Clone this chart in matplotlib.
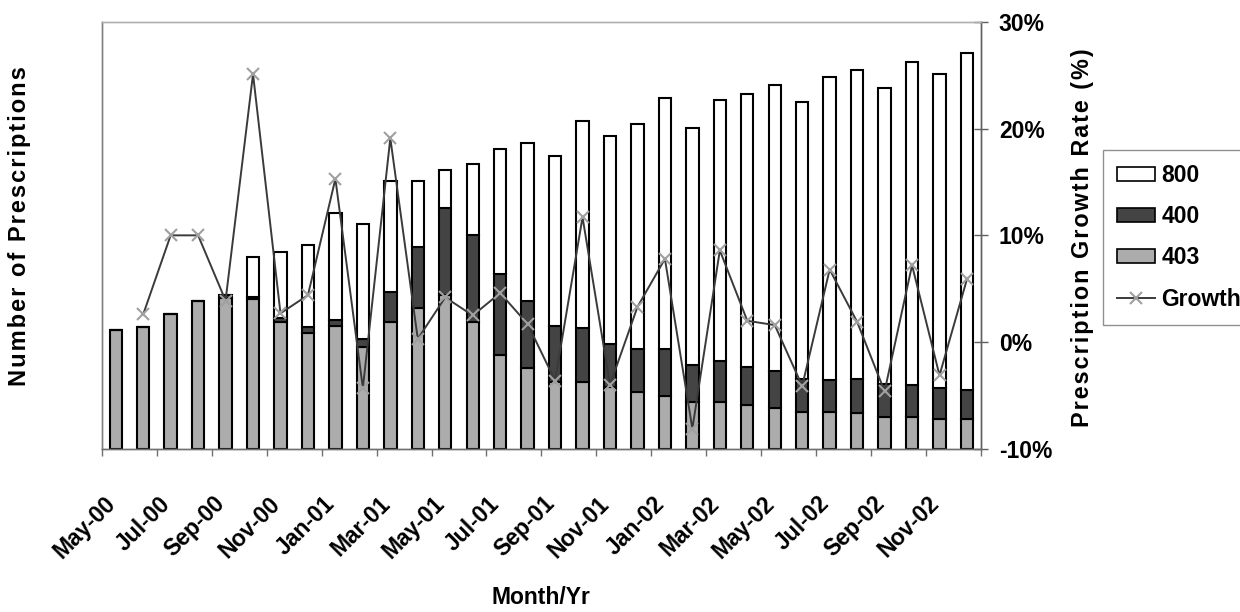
import matplotlib
matplotlib.use("Agg")
import matplotlib.pyplot as plt
import numpy as np
from matplotlib.patches import Patch
from matplotlib.lines import Line2D
from matplotlib.transforms import ScaledTranslation

plt.rcParams['font.family'] = ['Liberation Sans', 'DejaVu Sans']
plt.rcParams['font.weight'] = 'bold'

months = ['May-00', 'Jun-00', 'Jul-00', 'Aug-00', 'Sep-00', 'Oct-00', 'Nov-00', 'Dec-00',
          'Jan-01', 'Feb-01', 'Mar-01', 'Apr-01', 'May-01', 'Jun-01', 'Jul-01', 'Aug-01',
          'Sep-01', 'Oct-01', 'Nov-01', 'Dec-01', 'Jan-02', 'Feb-02', 'Mar-02', 'Apr-02',
          'May-02', 'Jun-02', 'Jul-02', 'Aug-02', 'Sep-02', 'Oct-02', 'Nov-02', 'Dec-02']

rx403 = [119, 122, 135, 148, 151, 150, 127, 116, 123, 102, 127, 141, 154, 127, 94, 81,
         67, 67, 62, 57, 53, 47, 47, 44, 41, 37, 37, 36, 32, 32, 30, 30]
rx400 = [0, 0, 0, 0, 3, 2, 4, 6, 6, 8, 30, 61, 87, 87, 81, 67,
         56, 54, 43, 43, 47, 37, 41, 38, 37, 33, 32, 34, 33, 32, 31, 29]
rx800 = [0, 0, 0, 0, 0, 40, 66, 82, 107, 115, 111, 66, 38, 71, 125, 158,
         170, 207, 208, 225, 251, 237, 261, 273, 286, 277, 303, 309, 296, 323, 314, 337]
growth = [np.nan, 2.6, 10.0, 10.0, 3.9, 25.1, 2.7, 4.4, 15.3, -4.3, 19.1, 0.3, 4.2, 2.5, 4.6, 1.7,
          -3.6, 11.7, -4.0, 3.3, 7.8, -8.1, 8.6, 2.0, 1.6, -4.1, 6.8, 1.9, -4.6, 7.2, -3.1, 5.9]

pct_ticks = [-10, 0, 10, 20, 30]
pct_labels = ['-10%', '0%', '10%', '20%', '30%']

FS = 16.5
W, H = 1240, 612
fig = plt.figure(figsize=(W / 100, H / 100), dpi=100)
L, R, T, B = 102, 980.7, 21.7, 449
ax = fig.add_axes([L / W, 1 - B / H, (R - L) / W, (B - T) / H])

x = np.arange(len(months))
a403 = np.array(rx403, float)
a400 = np.array(rx400, float)
a800 = np.array(rx800, float)
bw = 0.45
c403 = '#acacac'
c400 = '#444444'
c800 = '#ffffff'
ax.bar(x, a403, bw, color=c403, edgecolor='black', linewidth=1.5, zorder=2)
ax.bar(x, a400, bw, bottom=a403, color=c400, edgecolor='black', linewidth=1.5, zorder=2)
ax.bar(x, a800, bw, bottom=a403 + a400, color=c800, edgecolor='black', linewidth=1.5, zorder=2)

ax.set_xlim(-0.5, len(months) - 0.5)
ax.set_ylim(0, 427)
ax.set_yticks([])
ax.set_xticks(x[::2])
ax.set_xticklabels(months[::2], rotation=45, ha='right', va='top', rotation_mode='anchor',
                   fontsize=FS, fontweight='bold')
ax.tick_params(axis='x', which='major', length=0, pad=31)
ax.set_xticks(np.arange(-0.5, len(months), 2), minor=True)
ax.tick_params(axis='x', which='minor', length=5, direction='out', color='#707070', width=1)
off = ScaledTranslation(-12 / 100, 0, fig.dpi_scale_trans)
for lab in ax.get_xticklabels():
    lab.set_transform(lab.get_transform() + off)

for s, c in [('left', '#808080'), ('bottom', '#707070'), ('top', '#b0b0b0'), ('right', '#606060')]:
    ax.spines[s].set_color(c)
    ax.spines[s].set_linewidth(1)

ax2 = ax.twinx()
ax2.set_ylim(-10, 30)
ax2.plot(x, growth, color='#3a3a3a', linewidth=1.4, marker='x', markersize=8,
         markeredgecolor='#a0a0a0', markeredgewidth=1.5, zorder=3)
ax2.set_yticks(pct_ticks)
ax2.set_yticklabels(pct_labels, fontsize=FS, fontweight='bold')
ax2.tick_params(axis='y', direction='inout', length=10, pad=8, color='#606060', width=1)
for s, c in [('left', '#808080'), ('bottom', '#707070'), ('top', '#b0b0b0'), ('right', '#606060')]:
    ax2.spines[s].set_color(c)
    ax2.spines[s].set_linewidth(1)

hs = '\u200a'
left_label = hs.join('Number of Prescriptions')
right_label = hs.join('Prescription Growth Rate (%)')
fig.text(20 / W, 1 - 226 / H, left_label, rotation=90, ha='center', va='center',
         fontsize=FS + 0.5, fontweight='bold')
fig.text(1083 / W, 1 - 237.5 / H, right_label, rotation=90, ha='center', va='center',
         fontsize=FS + 0.3, fontweight='bold')
fig.text(541 / W, 1 - 598 / H, 'Month/Yr', ha='center', va='center',
         fontsize=FS, fontweight='bold')

handles = [Patch(facecolor=c800, edgecolor='black', linewidth=1.2),
           Patch(facecolor=c400, edgecolor='black', linewidth=1.2),
           Patch(facecolor=c403, edgecolor='black', linewidth=1.2),
           Line2D([], [], color='#3a3a3a', linewidth=1.4, marker='x', markersize=8,
                  markeredgecolor='#a0a0a0', markeredgewidth=1.5)]
leg = fig.legend(handles, ['800', '400', '403', 'Growth'], loc='upper left',
                 bbox_to_anchor=(1103 / W, 1 - 150 / H), borderaxespad=0,
                 fontsize=FS, frameon=True, fancybox=False, framealpha=1,
                 handlelength=1.65, handleheight=0.55, handletextpad=0.3,
                 labelspacing=0.8, borderpad=0.6)
leg.get_frame().set_edgecolor('#909090')
leg.get_frame().set_linewidth(1)
for t in leg.get_texts():
    t.set_fontweight('bold')

fig.savefig('out.png', dpi=100)
